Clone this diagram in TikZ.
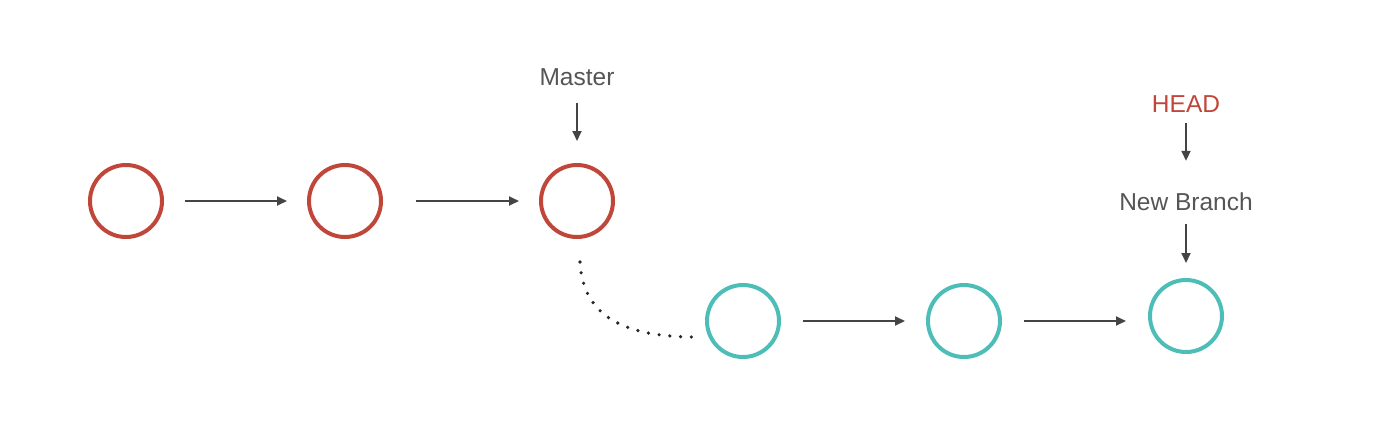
\documentclass[tikz,border=0pt]{standalone}
\usepackage{fontspec}
\setmainfont{Liberation Sans}
\usetikzlibrary{arrows.meta}
\definecolor{cred}{HTML}{C0463A}
\definecolor{cteal}{HTML}{4DBDB8}
\definecolor{ctext}{HTML}{555555}
\definecolor{carrow}{HTML}{444444}
\begin{document}
\begin{tikzpicture}[x=1pt,y=-1pt,
  commit/.style={circle,minimum size=72pt,inner sep=0pt,line width=4pt,draw},
  redc/.style={commit,draw=cred},
  tealc/.style={commit,draw=cteal},
  lbl/.style={inner sep=0pt,font=\fontsize{24.5}{28}\selectfont,text=ctext},
  conn/.style={draw=carrow,line width=1.8pt,-{Triangle[length=10pt,width=9pt]}},
  dots/.style={draw=black!85,line width=3.6pt,line cap=round,dash pattern=on 0pt off 10.8pt}]
\useasboundingbox (0,0) rectangle (1374,424);
\node[redc] (r1) at (126,201) {};
\node[redc] (r2) at (345,201) {};
\node[redc] (r3) at (577,201) {};
\node[tealc] (t1) at (743,321) {};
\node[tealc] (t2) at (964,321) {};
\node[tealc] (t3) at (1186,316) {};
\node[lbl] (master) at (577,77) {Master};
\node[lbl,text=cred] (head) at (1186,104) {HEAD};
\node[lbl] (nb) at (1186,202) {New Branch};
\coordinate (ds) at ([shift={(3,61)}]r3.center);
\coordinate (de) at ([shift={(-47,16)}]t1.center);
\draw[conn,shorten <=21pt,shorten >=20pt] (r1) -- (r2);
\draw[conn,shorten <=33pt,shorten >=20pt] (r2) -- (r3);
\draw[conn,shorten <=22pt,shorten >=21pt] (t1) -- (t2);
\draw[conn,shorten <=22pt,shorten >=22pt] (t2.east) -- (t2.east -| t3.west);
\draw[conn,shorten <=17pt,shorten >=22pt] (master) -- (r3);
\draw[conn,shorten <=10pt,shorten >=32pt] (head.south) -- (nb.north);
\draw[conn,shorten <=13pt,shorten >=15pt] (nb.south) -- (t3.north);
\draw[dots] (ds) .. controls ([shift={(6,119)}]r3.center) and ([shift={(-113,16)}]t1.center) .. (de);
\end{tikzpicture}
\end{document}
